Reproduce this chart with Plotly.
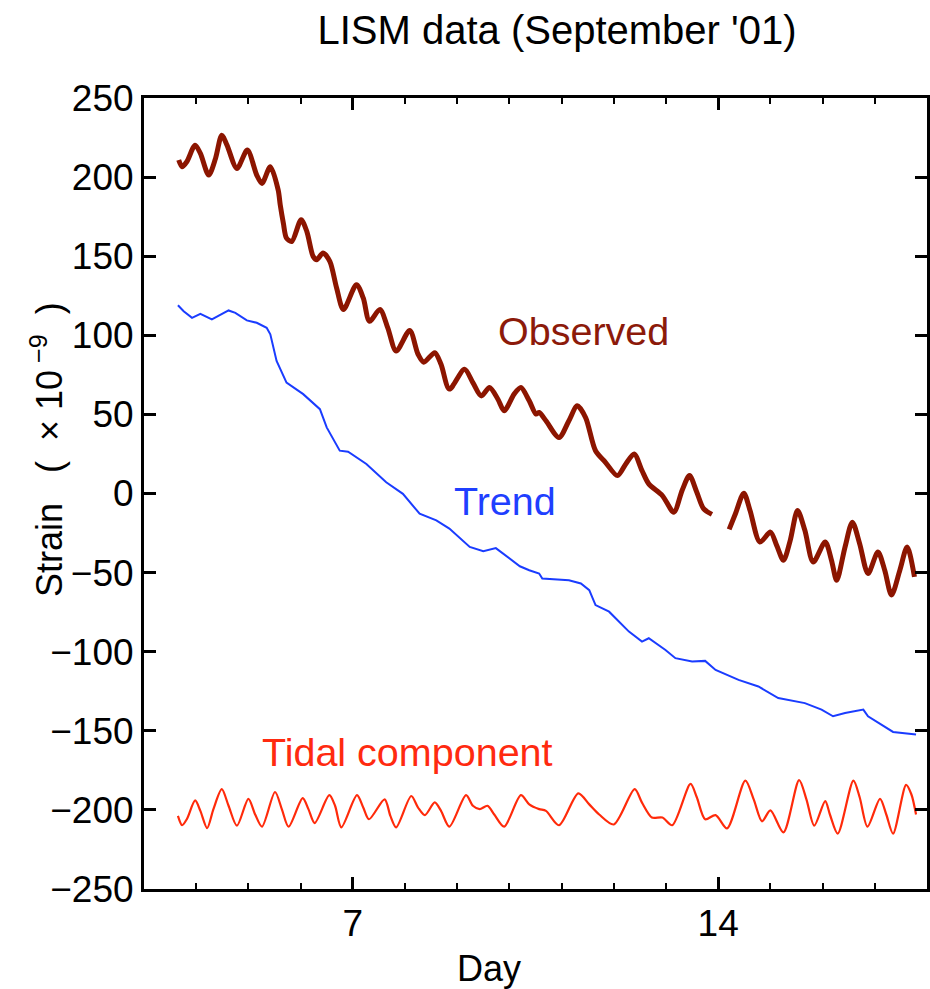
import plotly.graph_objects as go

# ---------------- data ----------------
obs_day = [3.665, 3.73, 3.82, 3.98, 4.08, 4.24, 4.37, 4.49, 4.59, 4.78, 4.98, 5.16, 5.26, 5.42,
           5.57, 5.61, 5.67, 5.73, 5.83, 6.01, 6.12, 6.24, 6.31, 6.43, 6.56, 6.69, 6.82, 7.07,
           7.20, 7.32, 7.52, 7.67, 7.83, 8.09, 8.25, 8.36, 8.57, 8.69, 8.85, 9.14, 9.30, 9.46,
           9.62, 9.78, 9.90, 10.09, 10.22, 10.38, 10.51, 10.57, 10.70, 10.95, 11.14, 11.30,
           11.46, 11.65, 11.84, 12.07, 12.23, 12.39, 12.54, 12.67, 12.93, 13.15, 13.31, 13.45,
           13.59, 13.72, 13.88, None,
           14.21, 14.33, 14.49, 14.61, 14.80, 15.00, 15.12, 15.25, 15.38, 15.52, 15.66, 15.82,
           16.05, 16.17, 16.27, 16.43, 16.57, 16.71, 16.87, 17.06, 17.19, 17.32, 17.48, 17.62,
           17.76]
obs_val = [210.8, 206.5, 209.7, 220.2, 215, 201.3, 211.8, 226.5, 220.2, 205.5, 217.1, 201.3, 196,
           206.5, 191.9, 182.4, 170.8, 161.4, 159.3, 173, 165.6, 149.9, 147.8, 152, 146.7, 129.9,
           116.3, 132, 123.6, 108.9, 116.3, 104.7, 90, 103, 88, 83, 89, 81.7, 66, 78.5, 70.1,
           61.7, 67, 59.6, 52.3, 62.8, 67, 58.6, 50.2, 51.2, 46, 35.4, 46, 55.4, 48, 27, 19.7,
           11.3, 18.7, 25, 14.5, 6.1, -1.3, -11.8, 2.1, 11.3, 0.8, -9.6, -13.2, None,
           -22.7, -12.8, 0.2, -10.7, -30.7, -24.4, -32.8, -42.2, -29.6, -10.7, -23.3, -43.3,
           -30.7, -42.2, -54.8, -33.8, -18.1, -31.7, -50.6, -37, -48.5, -64.2, -48.5, -33.8,
           -52.7]

trend_day = [3.65, 3.76, 3.92, 4.08, 4.30, 4.49, 4.62, 4.75, 4.97, 5.16, 5.35, 5.42, 5.54, 5.73,
             6.05, 6.37, 6.50, 6.75, 6.91, 7.26, 7.64, 7.96, 8.28, 8.60, 8.85, 9.24, 9.50, 9.74,
             10.0, 10.2, 10.38, 10.57, 10.63, 11.14, 11.37, 11.53, 11.65, 11.91, 12.29, 12.54,
             12.67, 12.99, 13.18, 13.50, 13.75, 13.95, 14.39, 14.77, 15.15, 15.66, 15.98, 16.20,
             16.43, 16.78, 16.87, 17.13, 17.35, 17.79]
trend_val = [119, 115.2, 111, 113.6, 110, 113.2, 115.7, 114.2, 109.4, 107.9, 104.7, 100.6, 83.8,
             70.1, 62.8, 53.3, 41.8, 27.1, 26.4, 18.7, 7.1, -0.2, -12.8, -17, -22.2, -33.8, -36.5,
             -34.5, -41, -46, -48.5, -50.6, -53.7, -54.8, -56.9, -61.1, -70.5, -74.7, -87.3,
             -93.6, -91.5, -98.9, -104.1, -106.2, -105.8, -111.5, -117.8, -122, -129.3, -132.5,
             -136.6, -140.8, -138.7, -136.6, -140.8, -146.1, -150.7, -152.4]

tidal_day = [3.65, 3.73, 3.82, 3.98, 4.08, 4.21, 4.33, 4.49, 4.62, 4.78, 5.00, 5.13, 5.26, 5.51,
             5.64, 5.77, 6.04, 6.15, 6.27, 6.55, 6.66, 6.78, 7.08, 7.20, 7.31, 7.61, 7.72, 7.83,
             8.12, 8.25, 8.38, 8.57, 8.69, 8.85, 9.17, 9.30, 9.43, 9.58, 9.71, 9.90, 10.22, 10.38,
             10.57, 10.70, 10.95, 11.32, 11.53, 11.72, 12.00, 12.40, 12.54, 12.73, 12.93, 13.12,
             13.47, 13.59, 13.75, 13.95, 14.17, 14.52, 14.68, 14.84, 15.00, 15.25, 15.55, 15.69,
             15.84, 16.05, 16.14, 16.29, 16.59, 16.71, 16.86, 17.10, 17.22, 17.35, 17.60, 17.70,
             17.79]
tidal_val = [-203.8, -209.7, -205.9, -194, -200.6, -211.5, -199.5, -186.9, -197.4, -210, -193,
             -202.9, -210.6, -188.7, -199.5, -210.6, -192.5, -199.5, -208.3, -190.7, -197.4, -211,
             -190.7, -198.5, -205.9, -193.3, -203.8, -211, -191.2, -198.5, -203.3, -195.3, -200.6,
             -210.6, -190.7, -197.4, -199.5, -197.4, -202.9, -210.6, -190.7, -196.5, -199.5,
             -200.6, -209.7, -189.5, -196.5, -202.9, -209.2, -186.9, -195.4, -204.8, -204.8,
             -209.7, -183.6, -192, -205.9, -203.3, -211.7, -181.5, -193.3, -207.2, -200.3, -214.2,
             -181.2, -193.3, -210, -194.5, -202.9, -215, -181.5, -192, -210.6, -193, -202.9, -215,
             -184.2, -190.1, -202.9]

x_range = [3, 18]
y_range = [-250, 250]
x_ticks = [7, 14]
y_ticks = list(range(-250, 251, 50))

title_text = "LISM data (September '01)"
x_title = "Day"
y_title = "Strain   (  \u00d7 10<sup> \u22129</sup>  )"
label_obs = "Observed"
label_trend = "Trend"
label_tidal = "Tidal component"

# ---------------- styles ----------------
FONT = "Liberation Sans, Arial, Helvetica, sans-serif"
C_OBS = "#8c1500"
C_TREND = "#1a3cff"
C_TIDAL = "#ff2a0a"


def fmt_tick(v):
    return ("\u2212" + str(-v)) if v < 0 else str(v)


fig = go.Figure()
fig.add_trace(go.Scatter(x=trend_day, y=trend_val, mode="lines",
                         line=dict(color=C_TREND, width=2), connectgaps=False))
fig.add_trace(go.Scatter(x=tidal_day, y=tidal_val, mode="lines",
                         line=dict(color=C_TIDAL, width=2.2, shape="spline", smoothing=0.8)))
fig.add_trace(go.Scatter(x=obs_day, y=obs_val, mode="lines",
                         line=dict(color=C_OBS, width=5, shape="spline", smoothing=0.8),
                         connectgaps=False))

axis_common = dict(showline=True, linewidth=3, linecolor="black", mirror="allticks",
                   ticks="inside", tickcolor="black", showgrid=False, zeroline=False,
                   tickfont=dict(family=FONT, size=37, color="black"))

fig.update_xaxes(range=x_range, tickmode="array", tickvals=x_ticks,
                 ticktext=[str(v) for v in x_ticks], ticklen=12, tickwidth=3,
                 minor=dict(dtick=1, tick0=0, ticks="inside", ticklen=6, tickwidth=2,
                            tickcolor="black", showgrid=False),
                 **axis_common)
fig.update_yaxes(range=y_range, tickmode="array", tickvals=y_ticks,
                 ticktext=[fmt_tick(v) for v in y_ticks],
                 ticklen=12, tickwidth=3, **axis_common)

ann_font = dict(family=FONT, size=39.5)
fig.add_annotation(x=11.41, y=102.6, text=label_obs, showarrow=False,
                   font=dict(color="#8c1a0a", **ann_font), xanchor="center", yanchor="middle")
fig.add_annotation(x=9.92, y=-5.0, text=label_trend, showarrow=False,
                   font=dict(color="#1f3fff", **ann_font), xanchor="center", yanchor="middle")
fig.add_annotation(x=8.05, y=-163.7, text=label_tidal, showarrow=False,
                   font=dict(color="#ff2a10", **ann_font), xanchor="center", yanchor="middle")

# axis titles as annotations for precise placement
fig.add_annotation(xref="paper", yref="paper", x=-0.124, y=0.556, text=y_title,
                   textangle=-90, showarrow=False, xanchor="center", yanchor="middle",
                   font=dict(family=FONT, size=36, color="black"))
fig.add_annotation(xref="paper", yref="paper", x=0.441, y=-0.1, text=x_title,
                   showarrow=False, xanchor="center", yanchor="middle",
                   font=dict(family=FONT, size=36, color="black"))

fig.update_layout(
    width=930, height=989, autosize=False,
    margin=dict(l=144, r=0, t=98, b=100, pad=0),
    paper_bgcolor="white", plot_bgcolor="white",
    showlegend=False,
    title=dict(text=title_text, x=557 / 930, xanchor="center", y=1 - 30 / 989,
               yanchor="middle", xref="container", yref="container",
               font=dict(family=FONT, size=40, color="black")),
)

fig.write_html("out.html")
